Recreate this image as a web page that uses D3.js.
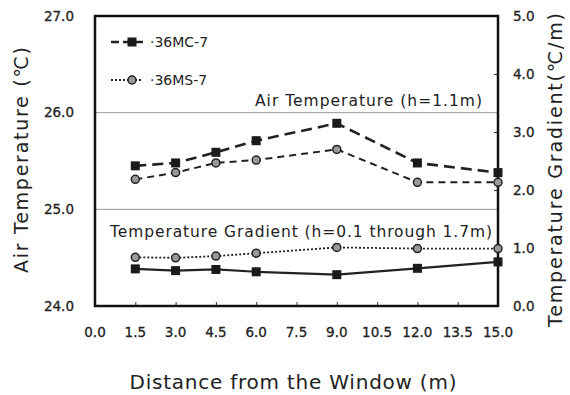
<!DOCTYPE html>
<html>
  <head>
    <meta charset="utf-8">
    <title>air temperature vs distance</title>
    <style>
      body { margin: 0; background-color: white; }
      svg { display: block; }
      text { font-family: "DejaVu Sans", "Noto Sans CJK JP", sans-serif; fill: #222; }
    </style>
  </head>
  <body>
    <div id="chart"></div>

    <script src="https://d3js.org/d3.v7.min.js"></script>
    <script>
    var distance = [1.5, 3.0, 4.5, 6.0, 9.0, 12.0, 15.0];
    var airMC = [25.45, 25.48, 25.59, 25.71, 25.89, 25.48, 25.38];
    var airMS = [25.31, 25.38, 25.48, 25.51, 25.62, 25.28, 25.28];
    var gradMC = [0.64, 0.61, 0.63, 0.59, 0.54, 0.65, 0.76];
    var gradMS = [0.84, 0.83, 0.86, 0.91, 1.01, 0.99, 0.99];
    var xTicks = [0, 1.5, 3, 4.5, 6, 7.5, 9, 10.5, 12, 13.5, 15];
    var leftTicks = [24, 25, 26, 27];
    var rightTicks = [0, 1, 2, 3, 4, 5];
    var seriesNames = ["·36MC-7", "·36MS-7"];

    var width = 570;
    var height = 395;
    var padding = {top: 16, right: 72, bottom: 89, left: 95};

    var svg = d3.select("#chart").append("svg")
      .attr("width", width)
      .attr("height", height);

    var x = d3.scaleLinear().domain([0, 15]).range([padding.left, width - padding.right]);
    var yL = d3.scaleLinear().domain([24, 27]).range([height - padding.bottom, padding.top]);
    var yR = d3.scaleLinear().domain([0, 5]).range([height - padding.bottom, padding.top]);

    // grid lines
    svg.selectAll(".grid")
      .data([25, 26])
      .enter().append("line")
      .attr("x1", x(0)).attr("x2", x(15))
      .attr("y1", function(d) { return yL(d); })
      .attr("y2", function(d) { return yL(d); })
      .attr("stroke", "#999")
      .attr("stroke-width", 1);

    // axes
    var fmt = d3.format(".1f");
    var bottom = svg.append("g")
      .attr("transform", "translate(0," + yL(24) + ")")
      .call(d3.axisTop(x).tickValues(xTicks).tickSize(4).tickFormat(""));
    bottom.selectAll("line").attr("stroke", "#333");
    bottom.select(".domain").remove();
    svg.append("g").selectAll("text")
      .data(xTicks)
      .enter().append("text")
      .attr("x", function(d) { return x(d); })
      .attr("y", yL(24) + 31)
      .attr("text-anchor", "middle")
      .attr("font-size", 13.5)
      .attr("stroke", "#222").attr("stroke-width", 0.3)
      .text(function(d) { return fmt(d); });

    var left = svg.append("g")
      .attr("transform", "translate(" + x(0) + ",0)")
      .call(d3.axisLeft(yL).tickValues(leftTicks).tickSize(0).tickPadding(21).tickFormat(fmt));
    left.select(".domain").remove();
    left.selectAll("text")
      .attr("font-size", 13.5)
      .attr("font-family", "\"DejaVu Sans\", sans-serif")
      .attr("fill", "#222")
      .attr("stroke", "#222").attr("stroke-width", 0.3);

    var right = svg.append("g")
      .attr("transform", "translate(" + x(15) + ",0)")
      .call(d3.axisLeft(yR).tickValues(rightTicks).tickSize(4).tickFormat(""));
    right.select(".domain").remove();
    right.selectAll("line").attr("stroke", "#333");
    svg.append("g").selectAll("text")
      .data(rightTicks)
      .enter().append("text")
      .attr("x", x(15) + 15)
      .attr("y", function(d) { return yR(d) + 5; })
      .attr("font-size", 13.5)
      .attr("stroke", "#222").attr("stroke-width", 0.3)
      .text(function(d) { return fmt(d); });

    // frame
    svg.append("rect")
      .attr("x", x(0)).attr("y", yL(27))
      .attr("width", x(15) - x(0)).attr("height", yL(24) - yL(27))
      .attr("fill", "none")
      .attr("stroke", "#111")
      .attr("stroke-width", 2.5);

    // series
    var series = [
      {name: "airMC", vals: airMC, y: yL, dash: "11,6", width: 2.6, marker: "square"},
      {name: "airMS", vals: airMS, y: yL, dash: "7,5", width: 2, marker: "circle"},
      {name: "gradMC", vals: gradMC, y: yR, dash: null, width: 2.2, marker: "square"},
      {name: "gradMS", vals: gradMS, y: yR, dash: "2,2", width: 1.8, marker: "circle"}
    ];

    series.forEach(function(s) {
      var pts = distance.map(function(d, i) { return [x(d), s.y(s.vals[i])]; });
      svg.append("path")
        .attr("d", d3.line()(pts))
        .attr("fill", "none")
        .attr("stroke", "#222")
        .attr("stroke-width", s.width)
        .attr("stroke-dasharray", s.dash);
      drawMarkers(pts, s.marker);
    });

    function drawMarkers(pts, kind) {
      if (kind == "square") {
        svg.append("g").selectAll("rect")
          .data(pts)
          .enter().append("rect")
          .attr("x", function(d) { return d[0] - 4.5; })
          .attr("y", function(d) { return d[1] - 4.5; })
          .attr("width", 9).attr("height", 9)
          .attr("fill", "#1a1a1a");
      } else {
        svg.append("g").selectAll("circle")
          .data(pts)
          .enter().append("circle")
          .attr("cx", function(d) { return d[0]; })
          .attr("cy", function(d) { return d[1]; })
          .attr("r", 4)
          .attr("fill", "#999")
          .attr("stroke", "#222")
          .attr("stroke-width", 1.5);
      }
    }

    // legend
    var legend = svg.append("g");
    var legY = [42, 80];
    legend.append("line")
      .attr("x1", 111).attr("x2", 143).attr("y1", legY[0]).attr("y2", legY[0])
      .attr("stroke", "#222").attr("stroke-width", 2.6).attr("stroke-dasharray", "8,4");
    legend.append("line")
      .attr("x1", 111).attr("x2", 143).attr("y1", legY[1]).attr("y2", legY[1])
      .attr("stroke", "#222").attr("stroke-width", 1.8).attr("stroke-dasharray", "2,2");
    drawMarkers([[132, legY[0]]], "square");
    drawMarkers([[132, legY[1]]], "circle");
    legend.selectAll("text")
      .data(seriesNames)
      .enter().append("text")
      .attr("x", 150)
      .attr("y", function(d, i) { return legY[i] + 5; })
      .attr("font-size", 14)
      .text(function(d) { return d; });

    // annotations
    svg.append("text")
      .attr("x", 482).attr("y", 106)
      .attr("text-anchor", "end")
      .attr("font-size", 15.5)
      .attr("textLength", 227)
      .text("Air Temperature (h=1.1m)");
    svg.append("text")
      .attr("x", 110).attr("y", 237)
      .attr("font-size", 15.5)
      .attr("textLength", 382)
      .text("Temperature Gradient (h=0.1 through 1.7m)");

    // axis titles
    svg.append("text")
      .attr("transform", "translate(28,160) rotate(-90)")
      .attr("text-anchor", "middle")
      .attr("font-size", 19)
      .attr("textLength", 226)
      .text("Air Temperature (℃)");
    svg.append("text")
      .attr("transform", "translate(562,170) rotate(-90)")
      .attr("text-anchor", "middle")
      .attr("font-size", 19)
      .attr("textLength", 314)
      .text("Temperature Gradient(℃/m)");
    svg.append("text")
      .attr("x", 293).attr("y", 389)
      .attr("text-anchor", "middle")
      .attr("font-size", 20)
      .attr("textLength", 327)
      .text("Distance from the Window (m)");
    </script>
  </body>
</html>
